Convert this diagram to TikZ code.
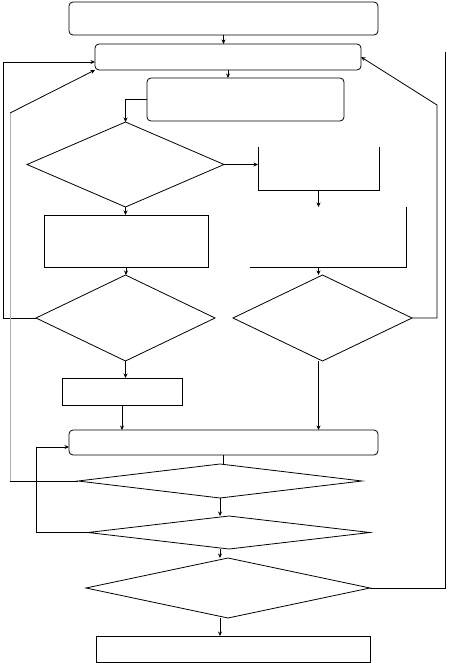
\documentclass[tikz,border=0pt]{standalone}
\usepackage{tikz}
\usetikzlibrary{arrows.meta,shapes.geometric}

\begin{document}
\begin{tikzpicture}[x=1pt, y=-1pt, >={Stealth[length=4.5pt,width=4pt]}, line width=0.8pt,
roundbox/.style={rectangle, rounded corners=4pt, draw, inner sep=0pt, outer sep=0pt},
plainbox/.style={rectangle, draw, inner sep=0pt, outer sep=0pt},
openbox/.style={rectangle, inner sep=0pt, outer sep=0pt},
decision/.style={diamond, draw, inner sep=0pt, outer sep=0pt}]
  \useasboundingbox (0,0) rectangle (448,663);
  \node[roundbox, minimum width=309pt, minimum height=33pt] (START) at (223.5,18.5) {};
  \node[roundbox, minimum width=266pt, minimum height=26pt] (LOOP) at (228,57) {};
  \node[roundbox, minimum width=197pt, minimum height=43pt] (INIT) at (245.5,99.5) {};
  \node[decision, minimum width=197pt, minimum height=85pt] (TEST1) at (125.5,164.5) {};
  \node[openbox, minimum width=121pt, minimum height=43pt] (STEPR1) at (318.5,168.5) {};
  \node[openbox, minimum width=156pt, minimum height=60pt] (STEPR2) at (328,237) {};
  \node[plainbox, minimum width=164pt, minimum height=52pt] (STEPL1) at (126,241) {};
  \node[decision, minimum width=179pt, minimum height=86pt] (TESTL) at (125.5,318) {};
  \node[decision, minimum width=179pt, minimum height=86pt] (TESTR) at (322.5,318) {};
  \node[plainbox, minimum width=120pt, minimum height=27pt] (STEPL2) at (122,391.5) {};
  \node[roundbox, minimum width=309pt, minimum height=25pt] (MERGE) at (223.5,442.5) {};
  \node[decision, minimum width=284pt, minimum height=34pt] (TEST2) at (220,481) {};
  \node[decision, minimum width=282pt, minimum height=33pt] (TEST3) at (229,532.5) {};
  \node[decision, minimum width=284pt, minimum height=60pt] (TEST4) at (228,588) {};
  \node[plainbox, minimum width=274pt, minimum height=26pt] (END) at (233,649) {};
  % open boxes on the right
  \draw (STEPR1.north west) |- (STEPR1.south east) -- (STEPR1.north east);
  \draw (STEPR2.south west) -- (STEPR2.south east) -- (STEPR2.north east);
  % loop corners
  \coordinate (backL) at (3,62);
  \coordinate (backR) at (437,105);
  \coordinate (backLL) at (10,481);
  \coordinate (backLT) at (10,113);
  \coordinate (backE) at (36,447);
  \coordinate (backRR) at (445,52);
  % main flow
  \draw[->] (START.south) -- (START.south |- LOOP.north);
  \draw[->] (LOOP.south) -- (LOOP.south |- INIT.north);
  \draw[->] (INIT.west) -| (TEST1.north);
  \draw[->] (TEST1.east) -- (TEST1.east -| STEPR1.west);
  \draw[->] (TEST1.south) -- (TEST1.south |- STEPL1.north);
  \draw[->] (STEPR1.south) -- (STEPR1.south |- STEPR2.north);
  \draw[->] (STEPL1.south) -- (STEPL1.south |- TESTL.north);
  \draw[->] (STEPR1.south |- STEPR2.south) -- (STEPR1.south |- TESTR.north);
  \draw[->] (TESTL.south) -- (TESTL.south |- STEPL2.north);
  \draw[->] (STEPL2.south) -- (STEPL2.south |- MERGE.north);
  \draw[->] (STEPR1.south |- TESTR.south) -- (STEPR1.south |- MERGE.north);
  \draw (MERGE.south) -- (MERGE.south |- TEST2.north);
  \draw[->] (TEST2.south) -- (TEST2.south |- TEST3.north);
  \draw[->] (TEST2.south |- TEST3.south) -- (TEST2.south |- TEST4.north);
  \draw[->] (TEST2.south |- TEST4.south) -- (TEST2.south |- END.north);
  % loops back
  \draw[->] (TESTL.west) -| (backL) -- (backL -| LOOP.west);
  \draw[->] (TESTR.east) -| (backR) -- (LOOP.east);
  \draw (TEST2.west) -- (backLL);
  \draw[gray!60] (backLL) -- (backLT);
  \draw[->] (backLT) -- (LOOP.south west);
  \draw[->] (TEST3.west) -| (backE) -- (backE -| MERGE.west);
  \draw (TEST4.east) -| (backRR);
\end{tikzpicture}
\end{document}
